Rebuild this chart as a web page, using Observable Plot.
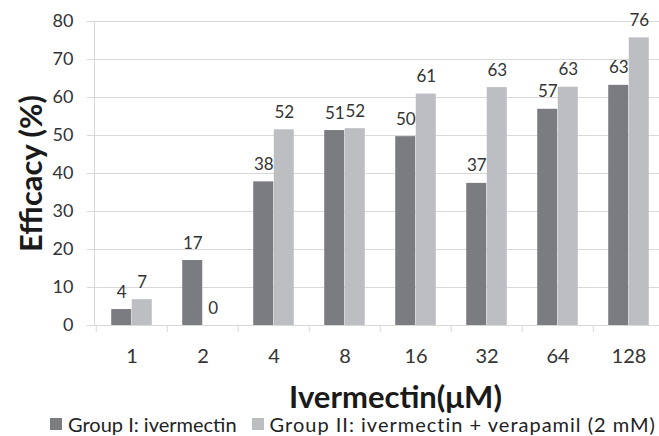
<!DOCTYPE html>
<html><head><meta charset="utf-8">
<script src="https://cdn.jsdelivr.net/npm/d3@7"></script>
<script src="https://cdn.jsdelivr.net/npm/@observablehq/plot@0.6"></script>
<style>
html,body{margin:0;padding:0;background:#fff;overflow:hidden;}
#chart{width:659px;height:436px;font-family:Lato,sans-serif;color:#333;}
#chart > svg{display:block;}
g[aria-label="y-axis label"]{font-size:31px;font-weight:bold;}
g[aria-label="y-axis label"] text{fill:#1a1a1a;}
.leg-swatches{font-family:Lato,sans-serif !important;font-size:20px !important;margin:-4px 0 0 50px !important;color:#222;min-height:24px !important;height:24px;line-height:24px;flex-wrap:nowrap !important;white-space:nowrap;width:620px;position:relative;}
.leg-swatch > svg{margin-right:6px !important;}
.leg-swatch{margin-right:15px !important;white-space:nowrap;}
.leg-swatch:nth-last-child(1){letter-spacing:1px;margin-right:0 !important;}
</style></head><body><div id="chart"></div>
<script>
const doses = ["1", "2", "4", "8", "16", "32", "64", "128"];
const groups = ["Group I: ivermectin", "Group II: ivermectin + verapamil (2 mM)"];
const groupI = [4.2, 17.1, 37.8, 51.3, 49.7, 37.4, 56.9, 63.2];
const groupII = [6.8, 0, 51.5, 51.8, 60.9, 62.6, 62.7, 75.7];
const yTicks = [0, 10, 20, 30, 40, 50, 60, 70, 80];
const colors = ["#7b7c80", "#bdbec2"];
const xTitle = "Ivermectin(μM)";
const yTitle = "Efficacy (%)";

const seriesI = doses.map((d, i) => ({dose: d, group: groups[0], value: groupI[i]}));
const seriesII = doses.map((d, i) => ({dose: d, group: groups[1], value: groupII[i]}));

const W = 659, H = 416, ML = 94, MR = -7, MT = 21, MB = 91;
const band = (W - ML - MR) / doses.length;
const barFrac = 0.287;
const outer = (1 - 2 * barFrac) / 2;
const labelStyle = {fontSize: 17, fill: "#333", lineAnchor: "bottom", dy: -12, text: d => String(Math.round(d.value))};

const chart = Plot.plot({
  width: W, height: H,
  marginLeft: ML, marginRight: MR, marginTop: MT, marginBottom: MB,
  style: {fontFamily: "Lato, sans-serif", fontSize: "17px", color: "#333", background: "#fff"},
  x: {domain: doses, padding: 0},
  y: {domain: [0, 80]},
  color: {domain: groups, range: colors},
  marks: [
    Plot.gridY(yTicks, {stroke: "#d9d9d9", strokeOpacity: 1}),
    Plot.frame({anchor: "left", stroke: "#d9d9d9"}),
    Plot.axisY(yTicks, {tickSize: 7, tickPadding: 14, fontSize: 18, stroke: "#d9d9d9", label: yTitle, labelArrow: "none", labelAnchor: "center", labelOffset: 75}),
    Plot.axisX({tickSize: 7, tickFormat: () => "", dx: -band / 2, stroke: "#d9d9d9", label: null}),
    Plot.axisX({tickSize: 0, tickPadding: 23, fontSize: 20, label: null}),
    Plot.text([xTitle], {frameAnchor: "bottom", lineAnchor: "bottom", dy: 82, dx: 15, fontSize: 31, fontWeight: "bold", fill: "#1a1a1a"}),
    Plot.barY(seriesI, {x: "dose", y: "value", fill: "group", insetLeft: outer * band, insetRight: (outer + barFrac) * band}),
    Plot.barY(seriesII, {x: "dose", y: "value", fill: "group", insetLeft: (outer + barFrac) * band, insetRight: outer * band}),
    Plot.text(seriesI, {x: "dose", y: "value", dx: -barFrac * band / 2, ...labelStyle}),
    Plot.text(seriesII, {x: "dose", y: "value", dx: barFrac * band / 2, ...labelStyle})
  ]
});
const legend = chart.legend("color", {swatchSize: 12, className: "leg"});
const root = document.getElementById("chart");
root.appendChild(chart);
root.appendChild(legend);
</script></body></html>
